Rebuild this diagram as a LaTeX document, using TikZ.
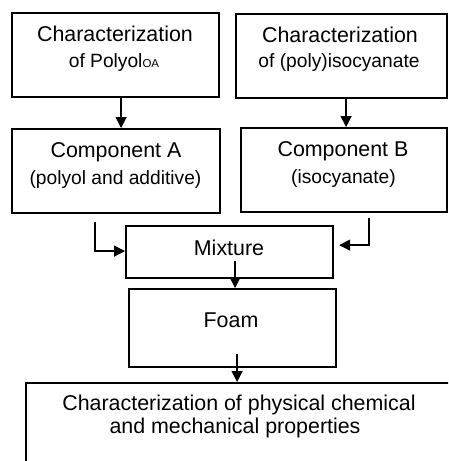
\documentclass[tikz,border=0pt]{standalone}
\usepackage{fontspec}
\setmainfont{Liberation Sans}
\usetikzlibrary{arrows.meta}
\begin{document}
\begin{tikzpicture}[x=1pt,y=-1pt,
  box/.style={draw=black, line width=2.2pt, inner sep=0pt, anchor=north west},
  big/.style={anchor=base, inner sep=0pt, font=\fontsize{21.4}{24}\selectfont},
  small/.style={anchor=base, inner sep=0pt, font=\fontsize{19.2}{22}\selectfont},
  arr/.style={draw=black, line width=1.3pt, -{Triangle[length=11pt,width=11pt]}},
  ]
\useasboundingbox (0,0) rectangle (448,461);
\clip (0,0) rectangle (448,461);
% boxes
\node[box, minimum width=207pt, minimum height=84pt] (b1) at (11,12) {};
\node[box, minimum width=211pt, minimum height=84pt] (b2) at (235,13) {};
\node[box, minimum width=208pt, minimum height=84pt] (bA) at (11,128) {};
\node[box, minimum width=206pt, minimum height=84pt] (bB) at (240,127) {};
\node[box, minimum width=207pt, minimum height=52pt] (mix) at (125,225) {};
\node[box, minimum width=207pt, minimum height=78pt] (foam) at (128,288) {};
\node[box, minimum width=445pt, minimum height=100pt] (bot) at (25,382) {};
% texts
\node[big] (t1a) at (115,41.5) {Characterization};
\node[small] (t1b) at (114,67) {of Polyol\raisebox{-0.5pt}{\fontsize{11.5}{12}\selectfont OA}};
\node[big] (t2a) at (340,42) {Characterization};
\node[small] (t2b) at (339,67) {of (poly)isocyanate};
\node[big] (tAa) at (116,157) {Component A};
\node[small] (tAb) at (115.5,184) {(polyol and additive)};
\node[big] (tBa) at (343,156.7) {Component B};
\node[small] (tBb) at (343.5,183) {(isocyanate)};
\node[big] (tm) at (229,255) {Mixture};
\node[big] (tf) at (231,327) {Foam};
\node[big] (tb1) at (239,410) {Characterization of physical chemical};
\node[big] (tb2) at (235,433) {and mechanical properties};
% connectors
\draw[arr] ([xshift=5.5pt]b1.south) -- ([xshift=5.5pt]b1.south |- bA.north);
\draw[arr] ([xshift=4.5pt]b2.south) -- ([xshift=4.5pt]b2.south |- bB.north);
\draw[arr] ([xshift=-21pt,yshift=-8pt]bA.south) |- ([yshift=1pt]mix.west);
\draw[arr] ([xshift=25pt,yshift=-5pt]bB.south) |- ([xshift=5pt,yshift=7pt]mix.east);
\draw[arr] ([xshift=5.5pt,yshift=-9pt]mix.center) -- ([xshift=5.5pt]mix.center |- foam.north);
\draw[arr] ([xshift=4.5pt,yshift=14pt]foam.south) -- ([xshift=4.5pt]foam.south |- bot.north);
\end{tikzpicture}
\end{document}
